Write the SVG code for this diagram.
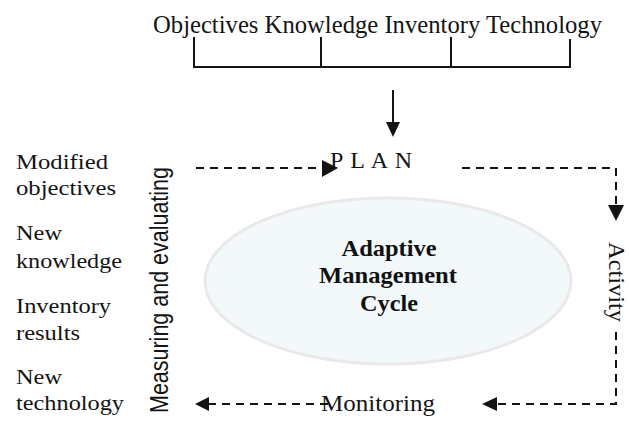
<svg xmlns="http://www.w3.org/2000/svg" width="629" height="421" viewBox="0 0 629 421">
<style>
.t{font-family:"Liberation Serif","Times New Roman",serif;fill:#141414;}
.s{font-family:"Liberation Sans",Arial,sans-serif;fill:#141414;}
.b{font-family:"Liberation Serif","Times New Roman",serif;font-weight:bold;fill:#111;font-size:23px;text-anchor:middle;}
.solid{stroke:#141414;stroke-width:2;fill:none;}
.dash{stroke:#141414;stroke-width:2;fill:none;stroke-dasharray:8 6;}
.head{fill:#141414;stroke:none;}
</style>
<rect width="629" height="421" fill="#ffffff"/>

<g id="inputs">
<text class="t" x="153" y="33" font-size="25" textLength="449" lengthAdjust="spacingAndGlyphs">Objectives Knowledge Inventory Technology</text>
</g>

<g id="cycle">
<ellipse cx="388" cy="281" rx="183" ry="83" fill="#f3f9fa" stroke="#e9e9e9" stroke-width="3"/>
<text class="b" x="389" y="256" textLength="95" lengthAdjust="spacingAndGlyphs">Adaptive</text>
<text class="b" x="388" y="283" textLength="138" lengthAdjust="spacingAndGlyphs">Management</text>
<text class="b" x="389" y="311" textLength="58" lengthAdjust="spacingAndGlyphs">Cycle</text>
</g>

<g id="plan">
<text class="t" x="330" y="168" font-size="24" textLength="82" lengthAdjust="spacing">P L A N</text>
</g>

<g id="activity">
<text class="t" font-size="24" transform="translate(609,242) rotate(90)" textLength="80" lengthAdjust="spacingAndGlyphs">Activity</text>
</g>

<g id="monitoring">
<text class="t" x="321" y="411" font-size="24" textLength="114" lengthAdjust="spacingAndGlyphs">Monitoring</text>
</g>

<g id="measuring">
<text class="s" font-size="25" transform="translate(168,413) rotate(-90)" textLength="246" lengthAdjust="spacingAndGlyphs">Measuring and evaluating</text>
</g>

<g id="outputs">
<text class="t" x="16" y="169" font-size="21" textLength="92" lengthAdjust="spacingAndGlyphs">Modified</text>
<text class="t" x="16" y="195" font-size="21" textLength="100" lengthAdjust="spacingAndGlyphs">objectives</text>
<text class="t" x="16" y="240" font-size="21" textLength="46" lengthAdjust="spacingAndGlyphs">New</text>
<text class="t" x="16" y="268" font-size="21" textLength="106" lengthAdjust="spacingAndGlyphs">knowledge</text>
<text class="t" x="16" y="313" font-size="21" textLength="95" lengthAdjust="spacingAndGlyphs">Inventory</text>
<text class="t" x="16" y="340" font-size="21" textLength="64" lengthAdjust="spacingAndGlyphs">results</text>
<text class="t" x="16" y="384" font-size="21" textLength="46" lengthAdjust="spacingAndGlyphs">New</text>
<text class="t" x="16" y="410" font-size="21" textLength="108" lengthAdjust="spacingAndGlyphs">technology</text>
</g>

<g id="connectors">
<path class="solid" d="M194,37 V67 M321,37 V67 M451,37 V67 M570,39 V67 M193,67 H571"/>
<path class="solid" d="M393,90 V124"/>
<polygon class="head" points="386,122 400,122 393,137"/>

<path class="dash" d="M196,168 H324"/>
<polygon class="head" points="322,160 322,177 338,168"/>

<path class="dash" d="M462,168 H616 V205"/>
<polygon class="head" points="608,205 624,205 616,221"/>

<path class="dash" d="M616,332 V404 H497"/>
<polygon class="head" points="497,397 497,411 482,404"/>

<path class="dash" d="M328,404 H209"/>
<polygon class="head" points="209,397 209,411 195,404"/>
</g>
</svg>
